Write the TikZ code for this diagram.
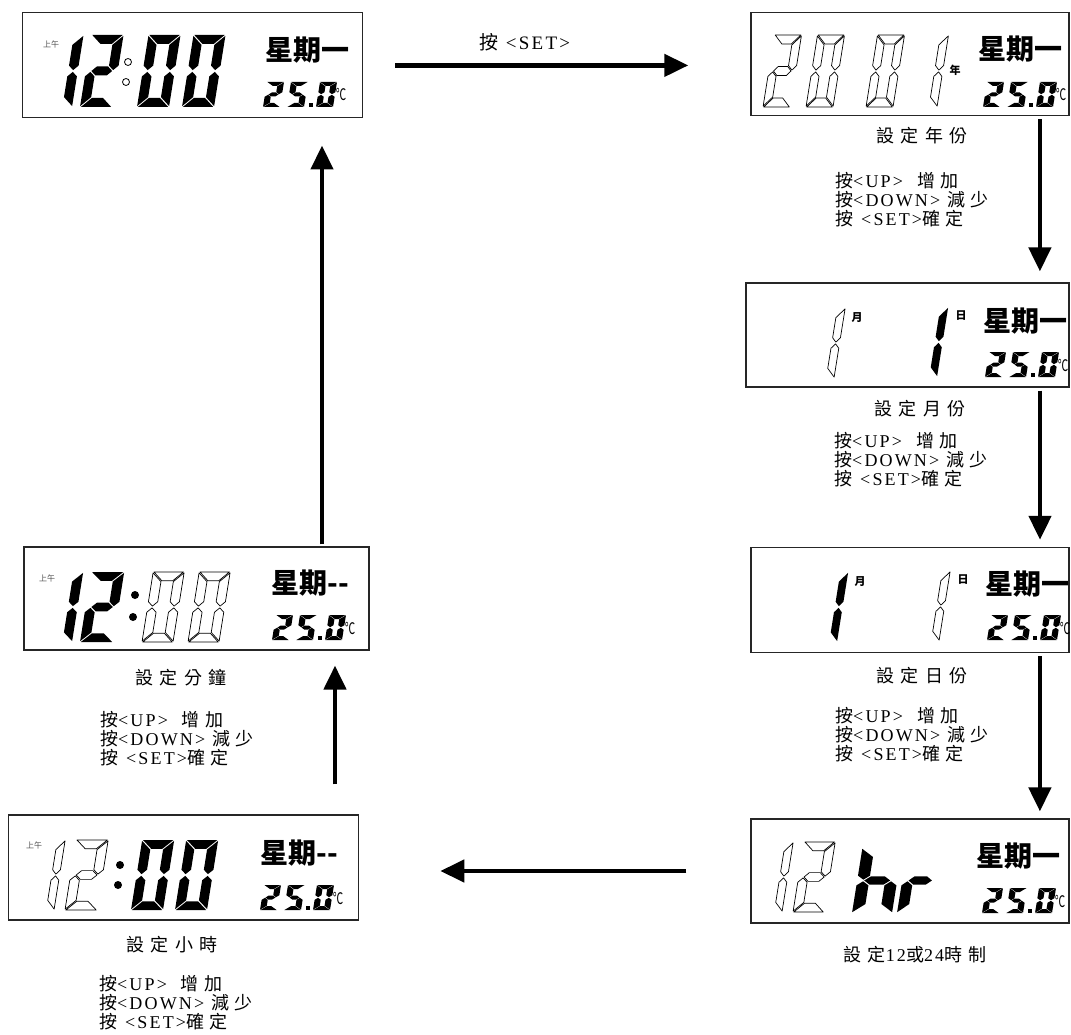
\documentclass[tikz,border=0pt]{standalone}
\usepackage{fontspec}
\setmainfont{Liberation Serif}[LetterSpace=12]
\newfontfamily\zh[LetterSpace=30]{Noto Sans CJK TC}
\newfontfamily\zhcap[LetterSpace=35]{Noto Sans CJK TC}
\newfontfamily\zhb{Noto Sans CJK TC}
\usetikzlibrary{arrows.meta}

% seven segment cell: width 1, height 2
\newcommand\segtx{0.3}
\newcommand\segty{0.25}
\newcommand\seggap{0.025}
\def\sega{({\seggap},2) -- ({1-\seggap},2) -- ({1-\segtx-\seggap},{2-\segty}) -- ({\segtx+\seggap},{2-\segty}) -- cycle}
\def\segd{({\seggap},0) -- ({1-\seggap},0) -- ({1-\segtx-\seggap},{\segty}) -- ({\segtx+\seggap},{\segty}) -- cycle}
\def\segg{({\segtx/2+\seggap},1) -- ({\segtx+\seggap},{1+\segty/2}) -- ({1-\segtx-\seggap},{1+\segty/2}) -- ({1-\segtx/2-\seggap},1) -- ({1-\segtx-\seggap},{1-\segty/2}) -- ({\segtx+\seggap},{1-\segty/2}) -- cycle}
\def\segf{(0,{2-\seggap}) -- (0,{1+\segty/2+\seggap}) -- ({\segtx/2},{1+\seggap}) -- ({\segtx},{1+\segty/2+\seggap}) -- ({\segtx},{2-\segty-\seggap}) -- cycle}
\def\sege{(0,{\seggap}) -- (0,{1-\segty/2-\seggap}) -- ({\segtx/2},{1-\seggap}) -- ({\segtx},{1-\segty/2-\seggap}) -- ({\segtx},{\segty+\seggap}) -- cycle}
\def\segb{(1,{2-\seggap}) -- (1,{1+\segty/2+\seggap}) -- ({1-\segtx/2},{1+\seggap}) -- ({1-\segtx},{1+\segty/2+\seggap}) -- ({1-\segtx},{2-\segty-\seggap}) -- cycle}
\def\segc{(1,{\seggap}) -- (1,{1-\segty/2-\seggap}) -- ({1-\segtx/2},{1-\seggap}) -- ({1-\segtx},{1-\segty/2-\seggap}) -- ({1-\segtx},{\segty+\seggap}) -- cycle}

% style, left, bottom, width, height, segments
\newcommand{\lcdnum}[6]{%
  \begin{scope}[shift={({#2},{-(#3)})}, xslant=0.16, xscale=#4, yscale=#5/2]
    \foreach \s in {#6}{\path[#1] \csname seg\s\endcsname;}
  \end{scope}}

% temperature 25.0 (name, left, bottom)
\newcommand{\tempread}[3]{%
  \begin{scope}
    \def\segtx{0.36}\def\segty{0.32}
    \lcdnum{lit}{#2}{#3}{17}{25}{a,b,g,e,d}
    \lcdnum{lit}{#2+24}{#3}{17}{25}{a,f,g,c,d}
    \fill ({#2+46},{-(#3)}) rectangle ++(4,4);
    \lcdnum{lit}{#2+53}{#3}{17}{25}{a,b,c,d,e,f}
    \node[font=\zhb\fontsize{16pt}{16pt}\selectfont, inner sep=0pt, xscale=0.65] (#1-deg) at ({#2+78},{-(#3)+12}) {℃};
  \end{scope}}

\newcommand{\keyhelp}{{\zh 按}<UP>\hspace{14pt}{\zh 增加}\\{\zh 按}<DOWN>\hspace{7pt}{\zh 減少}\\{\zh 按}\hspace{8pt}<SET>{\zh 確定}}

\begin{document}
\begin{tikzpicture}[x=1pt, y=1pt,
  lcd/.style={draw=black!85, line width=1.2pt, inner sep=0pt},
  lit/.style={fill=black},
  unlit/.style={draw=black, line width=0.7pt, line join=round},
  flow/.style={line width=4.5pt, -{Triangle[length=24pt, width=22pt]}},
  weekday/.style={font=\zhb\bfseries\fontsize{28pt}{30pt}\selectfont, inner sep=0pt},
  ampm/.style={font=\zhb\fontsize{8pt}{9pt}\selectfont, text=black!70, inner sep=0pt},
  unitlabel/.style={font=\zhb\bfseries\fontsize{11pt}{12pt}\selectfont, inner sep=0pt},
  caption/.style={font=\fontsize{18pt}{20pt}\selectfont, inner sep=0pt},
  keys/.style={font=\fontsize{18pt}{19pt}\selectfont, align=left, inner sep=0pt, anchor=north west}]

\useasboundingbox (0,0) rectangle (1071,-1035);

% display frames
\node[lcd, minimum width=340pt, minimum height=105pt] (clock) at (192.7,-65.4) {};
\node[lcd, minimum width=318pt, minimum height=103pt] (year) at (909.9,-64.4) {};
\node[lcd, minimum width=323pt, minimum height=104pt] (month) at (907.5,-335) {};
\node[lcd, minimum width=318pt, minimum height=105pt] (day) at (909.9,-599.9) {};
\node[lcd, minimum width=318pt, minimum height=104pt] (mode) at (909.9,-871) {};
\node[lcd, minimum width=350pt, minimum height=105pt] (hour) at (183.7,-867.5) {};
\node[lcd, minimum width=345pt, minimum height=103pt] (minute) at (196.5,-598.5) {};

% normal clock display
\node[ampm] (clock-ampm) at (51,-44) {上午};
\lcdnum{lit}{40}{107}{32}{72}{b,c}
\lcdnum{lit}{80}{107}{32}{72}{a,b,g,e,d}
\draw[line width=0.8pt] (128,-62) circle[radius=3.5pt] (126,-82) circle[radius=3.5pt];
\lcdnum{lit}{137}{107}{32}{72}{a,b,c,d,e,f}
\lcdnum{lit}{182}{107}{32}{72}{a,b,c,d,e,f}
\node[weekday] (clock-day) at (307,-50) {星期一};
\tempread{clock}{263}{107}

% year
\lcdnum{unlit}{763}{107}{27}{72}{a,b,g,e,d}
\lcdnum{unlit}{806}{107}{27}{72}{a,b,c,d,e,f}
\lcdnum{unlit}{866}{107}{27}{72}{a,b,c,d,e,f}
\lcdnum{unlit}{910}{107}{27}{72}{b,c}
\node[unitlabel] (year-unit) at (955,-70) {年};
\node[weekday] (year-day) at (1020,-49) {星期一};
\tempread{year}{983}{107}

% month
\lcdnum{unlit}{808}{378}{26}{70}{b,c}
\node[unitlabel] (month-m) at (857,-318) {月};
\lcdnum{lit}{911}{377}{26}{70}{b,c}
\node[unitlabel] (month-d) at (961,-316) {日};
\node[weekday] (month-day) at (1025,-321) {星期一};
\tempread{month}{985}{377}

% day
\lcdnum{lit}{811}{642}{26}{70}{b,c}
\node[unitlabel] (day-m) at (860,-582) {月};
\lcdnum{unlit}{913}{641}{26}{70}{b,c}
\node[unitlabel] (day-d) at (963,-580) {日};
\node[weekday] (day-day) at (1027,-584) {星期一};
\tempread{day}{987}{640}

% 12/24 mode
\lcdnum{unlit}{756}{912}{26}{70}{b,c}
\lcdnum{unlit}{793}{912}{31}{70}{a,b,g,e,d}
\lcdnum{lit}{852}{913}{40}{65}{f,e,g,c}
\lcdnum{lit}{897}{913}{36}{65}{e,g}
\node[weekday] (mode-day) at (1018,-856) {星期一};
\tempread{mode}{982}{913}

% hour
\node[ampm] (hour-ampm) at (34,-845) {上午};
\lcdnum{unlit}{28}{910}{26}{70}{b,c}
\lcdnum{unlit}{65}{910}{32}{70}{a,b,g,e,d}
\fill (120,-865) circle[radius=4pt] (118,-885) circle[radius=4pt];
\lcdnum{lit}{131}{910}{32}{70}{a,b,c,d,e,f}
\lcdnum{lit}{175}{910}{32}{70}{a,b,c,d,e,f}
\node[weekday] (hour-day) at (299,-853) {星期-{}-};
\tempread{hour}{260}{910}

% minute
\node[ampm] (minute-ampm) at (47,-578) {上午};
\lcdnum{lit}{40}{642}{32}{70}{b,c}
\lcdnum{lit}{80}{642}{33}{70}{a,b,g,e,d}
\fill (135,-595) circle[radius=4pt] (133,-617) circle[radius=4pt];
\lcdnum{unlit}{142}{642}{31}{70}{a,b,c,d,e,f}
\lcdnum{unlit}{188}{642}{31}{70}{a,b,c,d,e,f}
\node[weekday] (minute-day) at (310,-583) {星期-{}-};
\tempread{minute}{272}{640}

% captions
\node[caption] (year-cap) at (922,-136) {{\zhcap 設定年份}};
\node[caption] (month-cap) at (920,-409) {{\zhcap 設定月份}};
\node[caption] (day-cap) at (922,-676) {{\zhcap 設定日份}};
\node[caption] (mode-cap) at (915,-955) {{\zhcap 設定}12{\zhcap 或}24{\zhcap 時制}};
\node[caption] (hour-cap) at (172,-945) {{\zhcap 設定小時}};
\node[caption] (minute-cap) at (181,-678) {{\zhcap 設定分鐘}};

\node[keys] (year-keys) at (835,-172) {\keyhelp};
\node[keys] (month-keys) at (834,-432) {\keyhelp};
\node[keys] (day-keys) at (835,-707) {\keyhelp};
\node[keys] (hour-keys) at (99,-975) {\keyhelp};
\node[keys] (minute-keys) at (100,-711) {\keyhelp};

% flow
\draw[flow, shorten <=32pt, shorten >=62pt] (clock.east) -- (clock.east -| year.west);
\node[caption, font=\fontsize{19pt}{20pt}\selectfont] (set-label) at (525,-42) {{\zh 按} <SET>};
\draw[flow, shorten <=3pt, shorten >=11pt] ([xshift=130pt]year.south) -- ([xshift=130pt]year.south |- month.north);
\draw[flow, shorten <=3pt, shorten >=7pt] ([xshift=132.5pt]month.south) -- ([xshift=132.5pt]month.south |- day.north);
\draw[flow, shorten <=3pt, shorten >=7pt] ([xshift=130pt]day.south) -- ([xshift=130pt]day.south |- mode.north);
\draw[flow, shorten <=64pt, shorten >=81pt] (mode.west) -- (mode.west -| hour.east);
\draw[flow, shorten <=30pt, shorten >=15pt] ([xshift=151.3pt]hour.north) -- ([xshift=151.3pt]hour.north |- minute.south);
\draw[flow, shorten <=2pt, shorten >=27pt] ([xshift=125.5pt]minute.north) -- ([xshift=125.5pt]minute.north |- clock.south);

\end{tikzpicture}
\end{document}
